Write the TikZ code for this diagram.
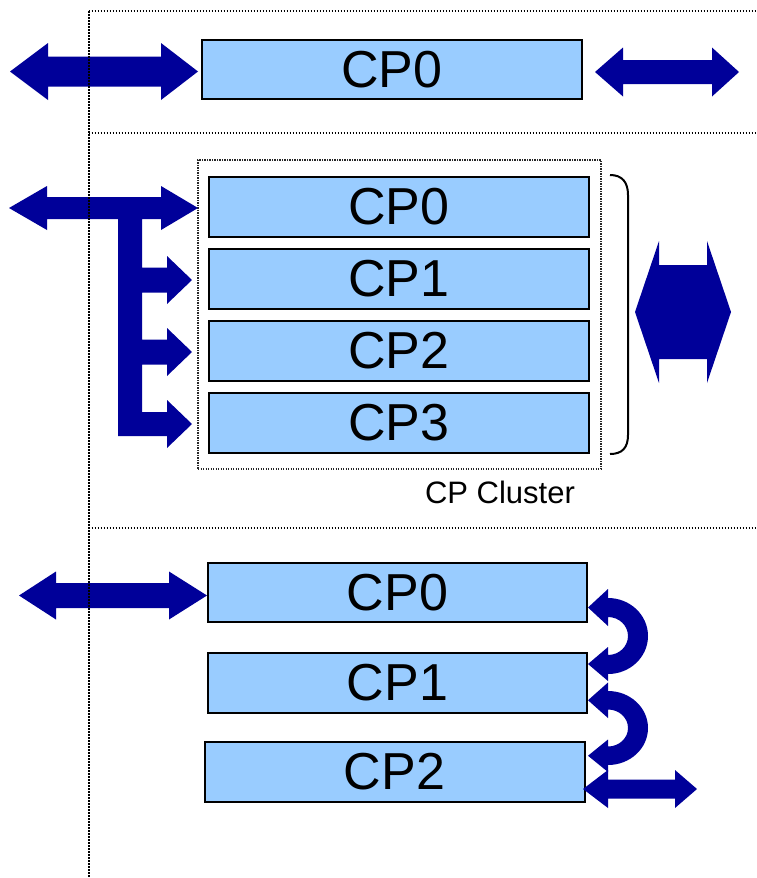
\documentclass[tikz,border=0pt]{standalone}
\usepackage{fontspec}
\setmainfont{Liberation Sans}
\definecolor{cpfill}{HTML}{99CCFF}
\definecolor{arrowblue}{HTML}{000099}
% horizontal block arrow with a head at each end:
% #1 left tip x, #2 right tip x, #3 centre y, #4 left head length,
% #5 right head length, #6 head half height, #7 shaft half height
\newcommand\dblblock[7]{%
  \fill[arrowblue] (#1,#3) -- ({#1+#4},{#3-#6}) -- ({#1+#4},{#3-#7})
    -- ({#2-#5},{#3-#7}) -- ({#2-#5},{#3-#6}) -- (#2,#3)
    -- ({#2-#5},{#3+#6}) -- ({#2-#5},{#3+#7}) -- ({#1+#4},{#3+#7})
    -- ({#1+#4},{#3+#6}) -- cycle;}
\begin{document}
\begin{tikzpicture}[x=1pt,y=-1pt,
  cpbox/.style={draw=black, line width=2pt, fill=cpfill, inner sep=0pt,
    minimum width=380pt, minimum height=60pt,
    font=\fontsize{52}{60}\selectfont},
  sepline/.style={line width=1.6pt, dash pattern=on 1.5pt off 1.5pt},
  clusterbox/.style={draw=black!85, line width=1.1pt, dash pattern=on 1.1pt off 1.4pt,
    inner sep=0pt},
  bracket/.style={line width=2pt, black},
  labeltext/.style={font=\fontsize{31}{36}\selectfont, inner sep=0pt}]
\useasboundingbox (0,0) rectangle (757,878);

% ---- single processor ----
\node[cpbox, minimum height=59pt] (a0) at (392,69.5) {CP0};
\dblblock{10}{198}{71.5}{38}{37}{28.5}{15}
\dblblock{595}{739}{72}{28}{27}{24.5}{12}

% ---- processor cluster ----
\node[clusterbox, minimum width=403pt, minimum height=309pt] (cluster) at (399.5,314.5) {};
\node[cpbox] (b0) at (399,207) {CP0};
\node[cpbox] (b1) at (399,279) {CP1};
\node[cpbox] (b2) at (399,351) {CP2};
\node[cpbox] (b3) at (399,423) {CP3};
\node[labeltext, anchor=base] (clabel) at (500,503) {CP Cluster};
\draw[bracket] (610,175) .. controls (622,175) and (628,182) .. (628,195)
  -- (628,435) .. controls (628,448) and (622,454) .. (610,454);

% shared bus feeding every processor of the cluster
\fill[arrowblue] (9,208) -- (47,186) -- (47,197) -- (161,197) -- (161,186)
  -- (198,208) -- (161,230) -- (161,219) -- (142,219)
  -- (142,267.5) -- (167,267.5) -- (167,256) -- (192,280) -- (167,304)
  -- (167,292.5) -- (142,292.5)
  -- (142,339.5) -- (167,339.5) -- (167,328) -- (192,352) -- (167,376)
  -- (167,364.5) -- (142,364.5)
  -- (142,412) -- (167,412) -- (167,400) -- (192,424) -- (167,448)
  -- (167,436) -- (118,436) -- (118,219) -- (47,219) -- (47,230) -- cycle;
\dblblock{635}{731}{312}{24}{24}{71}{47}

% ---- processor chain ----
\node[cpbox, minimum width=379pt, minimum height=59pt] (c0) at (397.5,592.5) {CP0};
\node[cpbox, minimum width=379pt] (c1) at (397.5,683) {CP1};
\node[cpbox] (c2) at (394.5,772) {CP2};
\dblblock{19}{207}{595.5}{37}{38}{24}{12.5}
\fill[arrowblue] (608,598) arc[start angle=-90, end angle=90, x radius=40, y radius=38]
  -- (608,681) -- (588,664) -- (608,647) -- (608,655)
  arc[start angle=90, end angle=-90, x radius=20, y radius=19]
  -- (608,626) -- (588,607.5) -- (608,589) -- cycle;
\fill[arrowblue] (608,691) arc[start angle=-90, end angle=90, x radius=40, y radius=37]
  -- (608,772) -- (588,755.75) -- (608,739.5) -- (608,746.5)
  arc[start angle=90, end angle=-90, x radius=20, y radius=18.5]
  -- (608,718) -- (588,700.25) -- (608,682.5) -- cycle;
\dblblock{583}{697}{789}{25}{22}{19}{9.5}

% ---- dotted separators ----
\draw[sepline] (88.7,11) -- (88.7,878);
\draw[sepline] (88.7,11) -- (757,11);
\draw[sepline] (88.7,133) -- (757,133);
\draw[sepline] (88.7,528) -- (757,528);
\end{tikzpicture}
\end{document}
